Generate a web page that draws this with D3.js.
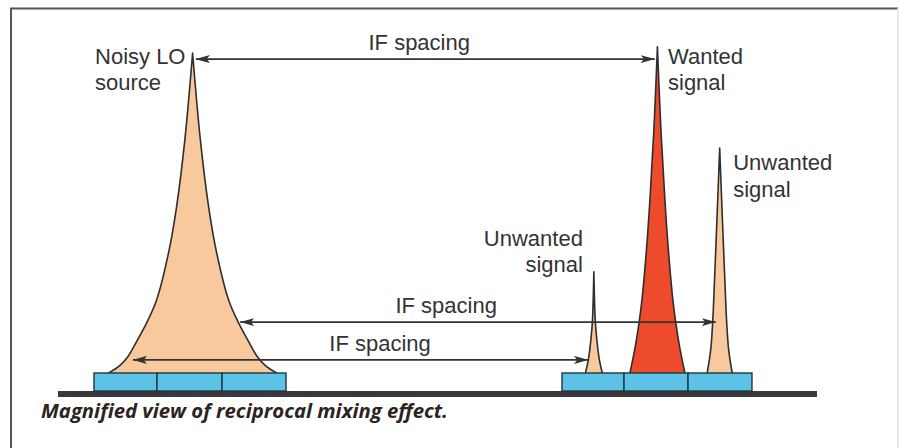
<!DOCTYPE html>
<html>
<head>
<meta charset="utf-8">
<script src="https://cdn.jsdelivr.net/npm/d3@7/dist/d3.min.js"></script>
<style>
  html, body { margin: 0; padding: 0; background: #ffffff; }
  svg { display: block; }
</style>
</head>
<body>
<svg id="chart" width="899" height="448"></svg>
<script>
// ---------- data (frequency in kHz, amplitude in relative units) ----------
const peakNames   = ["Noisy LO source", "Unwanted signal (lower)", "Wanted signal", "Unwanted signal (upper)"];
const peakCenters = [30.0, 92.5, 102.4, 112.1];
const peakKinds   = ["lo", "unwanted", "wanted", "unwanted"];
// half-profiles: offset from centre (kHz) -> amplitude
const loOffsets        = [0, 1.2, 2.49, 3.66, 5.61, 7.1, 8.6, 10.12, 11.3, 13.08];
const loAmps           = [100, 73, 52, 38.4, 22.8, 15.9, 10.3, 5.0, 2.4, 0];
const lowUnwOffsets    = [0, 0.23, 0.47, 0.86, 1.32];
const lowUnwAmps       = [31.6, 15.9, 10.3, 4.1, 0];
const wantedOffsets    = [0, 0.55, 1.17, 1.71, 2.41, 2.85, 3.43, 4.28];
const wantedAmps       = [101.9, 76, 54, 38.4, 22.8, 15.9, 8.5, 0];
const highUnwOffsets   = [0, 0.31, 0.93, 1.09, 1.40, 1.95];
const highUnwAmps      = [70.3, 54, 22.8, 15.9, 7.2, 0];

// channel cells (kHz edges)
const leftCells  = [14.64, 24.45, 34.58, 44.55];
const rightCells = [87.54, 97.20, 107.17, 117.13];
const baseFrom = 9.03, baseTo = 127.26;

// IF spacing arrows
const arrowFrom   = [30.5, 37.4, 20.7];
const arrowTo     = [102.0, 111.5, 91.6];
const arrowAmp    = [98.1, 15.9, 4.1];
const arrowLabelX = [65.3, 69.5, 59.2];
const arrowLabel  = "IF spacing";

// peak labels
const labelLines = [["Noisy LO", "source"], ["Wanted", "signal"], ["Unwanted", "signal"], ["Unwanted", "signal"]];
const labelX     = [14.8, 104.05, 90.8, 114.2];
const labelAmp   = [96.6, 96.6, 39.7, 63.4];
const labelAnchor = ["start", "start", "end", "start"];
const caption = "Magnified view of reciprocal mixing effect.";

// ---------- scales ----------
const svg = d3.select("#chart");
const x = d3.scaleLinear().domain([0, 140]).range([0, 898.8]);
const y = d3.scaleLinear().domain([0, 100]).range([373, 53]);

const colors = { lo: "#f8c99d", wanted: "#ee4a2c", unwanted: "#f8c99d" };
const ink = "#2e2e2e";
const labelFont = "'Liberation Sans', Arial, sans-serif";

// ---------- frame ----------
svg.append("path")
  .attr("d", "M11,448 L11,8.5 L898,8.5")
  .attr("fill", "none").attr("stroke", "#555").attr("stroke-width", 2);
svg.append("line").attr("x1", 898).attr("x2", 898).attr("y1", 8).attr("y2", 448)
  .attr("stroke", "#e2e2e2").attr("stroke-width", 1.5);

// ---------- peaks ----------
const profiles = [
  [loOffsets, loAmps],
  [lowUnwOffsets, lowUnwAmps],
  [wantedOffsets, wantedAmps],
  [highUnwOffsets, highUnwAmps]
];
const line = d3.line().x(d => x(d[0])).y(d => y(d[1])).curve(d3.curveCatmullRom.alpha(0.5));

profiles.forEach(([offs, amps], i) => {
  const c = peakCenters[i];
  const left = offs.map((o, k) => [c - o, amps[k]]).reverse();
  const right = offs.map((o, k) => [c + o, amps[k]]);
  const pathStr = line(left) + "L" + line(right).slice(1);
  svg.append("path")
    .attr("d", pathStr + "Z")
    .attr("fill", colors[peakKinds[i]])
    .attr("stroke", "none");
  svg.append("path")
    .attr("d", pathStr)
    .attr("fill", "none")
    .attr("stroke", ink)
    .attr("stroke-width", 1.6)
    .attr("stroke-linejoin", "round");
});

// ---------- baseline and cells ----------
svg.append("rect")
  .attr("x", x(baseFrom)).attr("y", y(0) + 18)
  .attr("width", x(baseTo) - x(baseFrom)).attr("height", 6)
  .attr("fill", "#3a3a3a");

[leftCells, rightCells].forEach(edges => {
  d3.pairs(edges).forEach(([a, b]) => {
    svg.append("rect")
      .attr("x", x(a)).attr("y", y(0))
      .attr("width", x(b) - x(a)).attr("height", 18)
      .attr("fill", "#5cc3e6").attr("stroke", "#1f3540").attr("stroke-width", 1.4);
  });
});

// ---------- arrows ----------
const defs = svg.append("defs");
defs.append("marker")
  .attr("id", "head").attr("viewBox", "0 0 14 8")
  .attr("refX", 14).attr("refY", 4)
  .attr("markerWidth", 14).attr("markerHeight", 8)
  .attr("markerUnits", "userSpaceOnUse")
  .attr("orient", "auto-start-reverse")
  .append("path").attr("d", "M0,0 L14,4 L0,8 L3,4 Z").attr("fill", "#333");

arrowFrom.forEach((f, i) => {
  svg.append("line")
    .attr("x1", x(f)).attr("x2", x(arrowTo[i]))
    .attr("y1", y(arrowAmp[i])).attr("y2", y(arrowAmp[i]))
    .attr("stroke", "#333").attr("stroke-width", 1.6)
    .attr("marker-start", "url(#head)").attr("marker-end", "url(#head)");
  svg.append("text")
    .attr("x", x(arrowLabelX[i])).attr("y", y(arrowAmp[i]) - 9)
    .attr("text-anchor", "middle")
    .attr("font-family", labelFont)
    .attr("font-size", 22).attr("fill", "#333")
    .text(arrowLabel);
});

// ---------- peak labels ----------
labelLines.forEach((lines, i) => {
  const t = svg.append("text")
    .attr("x", x(labelX[i])).attr("y", y(labelAmp[i]))
    .attr("text-anchor", labelAnchor[i])
    .attr("font-family", labelFont)
    .attr("font-size", 22).attr("fill", "#333");
  lines.forEach((s, k) => {
    t.append("tspan").attr("x", x(labelX[i])).attr("dy", k === 0 ? 0 : 26.5).text(s);
  });
});

// ---------- caption ----------
svg.append("text")
  .attr("x", 41).attr("y", 418)
  .attr("font-family", "'Open Sans', Lato, sans-serif")
  .attr("font-style", "italic").attr("font-weight", "bold")
  .attr("font-size", 20.3).attr("fill", "#2b2420")
  .text(caption);
</script>
</body>
</html>
